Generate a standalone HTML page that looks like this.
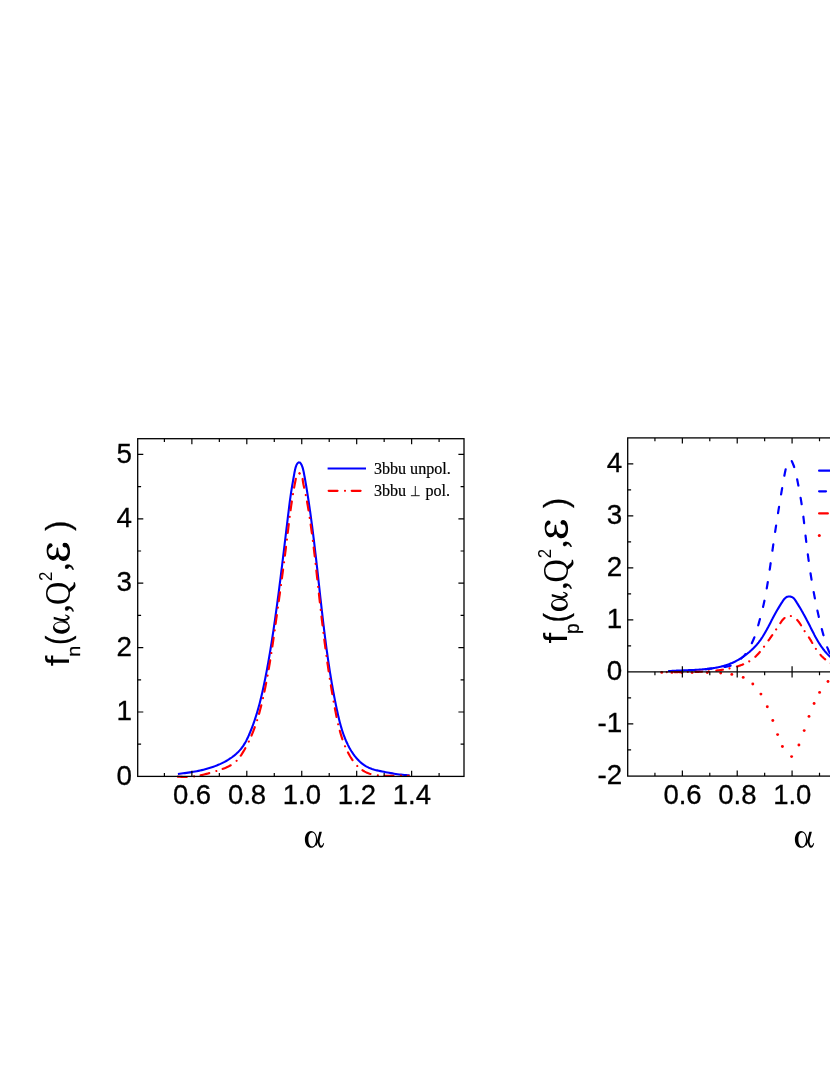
<!DOCTYPE html>
<html lang="en">
<head>
<meta charset="utf-8">
<title>f_n and f_p distributions</title>
<style>
html,body{margin:0;padding:0;background:#fff;}
body{width:830px;height:1075px;overflow:hidden;font-family:"Liberation Sans",sans-serif;}
svg{display:block;position:absolute;left:0;top:0;will-change:transform;}
text{fill:#000;}
</style>
</head>
<body>
<svg width="830" height="1075" viewBox="0 0 830 1075" role="img" aria-label="f_n and f_p light-cone momentum distributions versus alpha">
<rect width="830" height="1075" fill="#fff"/>
<g id="left">
<path d="M177.91 773.92 L179.62 773.74 L181.34 773.54 L183.05 773.33 L184.77 773.11 L186.49 772.88 L188.20 772.64 L189.92 772.39 L191.63 772.12 L193.34 771.83 L195.05 771.52 L196.75 771.20 L198.45 770.86 L200.15 770.49 L201.84 770.11 L203.52 769.70 L205.20 769.27 L206.87 768.81 L208.53 768.33 L210.19 767.82 L211.84 767.28 L213.48 766.71 L215.10 766.12 L216.72 765.49 L218.33 764.82 L219.93 764.13 L221.51 763.40 L223.08 762.63 L224.63 761.83 L226.16 760.99 L227.66 760.11 L229.14 759.19 L230.59 758.24 L232.01 757.24 L233.40 756.20 L234.74 755.13 L236.05 754.00 L237.31 752.84 L238.53 751.63 L239.70 750.38 L240.82 749.08 L241.88 747.73 L242.89 746.34 L243.85 744.90 L244.75 743.42 L245.61 741.91 L246.43 740.37 L247.21 738.80 L247.97 737.22 L248.69 735.61 L249.39 734.00 L250.07 732.39 L250.73 730.77 L251.38 729.14 L252.01 727.51 L252.63 725.88 L253.23 724.25 L253.81 722.61 L254.38 720.97 L254.94 719.33 L255.48 717.68 L256.01 716.03 L256.52 714.37 L257.03 712.72 L257.52 711.06 L258.00 709.40 L258.46 707.73 L258.92 706.07 L259.37 704.40 L259.81 702.73 L260.23 701.05 L260.65 699.38 L261.06 697.70 L261.46 696.02 L261.86 694.34 L262.24 692.66 L262.62 690.97 L262.99 689.28 L263.36 687.59 L263.72 685.90 L264.07 684.21 L264.42 682.52 L264.77 680.83 L265.11 679.13 L265.44 677.44 L265.77 675.74 L266.10 674.04 L266.43 672.34 L266.75 670.64 L267.07 668.94 L267.38 667.24 L267.69 665.53 L268.00 663.83 L268.31 662.12 L268.61 660.42 L268.90 658.71 L269.20 657.00 L269.49 655.30 L269.78 653.59 L270.06 651.88 L270.35 650.17 L270.63 648.46 L270.91 646.75 L271.18 645.03 L271.45 643.32 L271.72 641.61 L271.99 639.90 L272.25 638.18 L272.52 636.47 L272.78 634.75 L273.04 633.04 L273.29 631.32 L273.55 629.61 L273.80 627.89 L274.05 626.18 L274.30 624.46 L274.55 622.74 L274.79 621.03 L275.04 619.31 L275.28 617.59 L275.52 615.88 L275.76 614.16 L276.00 612.44 L276.23 610.73 L276.47 609.01 L276.70 607.29 L276.94 605.58 L277.17 603.86 L277.40 602.14 L277.63 600.42 L277.85 598.71 L278.08 596.99 L278.31 595.27 L278.53 593.55 L278.75 591.83 L278.97 590.12 L279.20 588.40 L279.42 586.68 L279.64 584.96 L279.85 583.24 L280.07 581.53 L280.29 579.81 L280.50 578.09 L280.72 576.37 L280.93 574.65 L281.15 572.93 L281.36 571.21 L281.57 569.50 L281.78 567.78 L282.00 566.06 L282.21 564.34 L282.42 562.62 L282.63 560.90 L282.84 559.18 L283.04 557.46 L283.25 555.75 L283.46 554.03 L283.67 552.31 L283.87 550.59 L284.08 548.87 L284.29 547.15 L284.50 545.43 L284.70 543.71 L284.91 541.99 L285.11 540.27 L285.32 538.56 L285.53 536.84 L285.73 535.12 L285.94 533.40 L286.14 531.68 L286.35 529.96 L286.55 528.24 L286.76 526.52 L286.97 524.80 L287.17 523.08 L287.38 521.37 L287.59 519.65 L287.79 517.93 L288.00 516.21 L288.21 514.49 L288.42 512.77 L288.63 511.05 L288.84 509.33 L289.05 507.61 L289.26 505.90 L289.48 504.18 L289.70 502.46 L289.92 500.74 L290.15 499.02 L290.39 497.30 L290.64 495.58 L290.89 493.86 L291.15 492.13 L291.42 490.41 L291.69 488.69 L291.98 486.98 L292.26 485.26 L292.55 483.56 L292.85 481.85 L293.14 480.15 L293.44 478.46 L293.74 476.78 L294.04 475.10 L294.33 473.44 L294.63 471.78 L294.97 470.10 L295.37 468.37 L295.89 466.56 L296.58 464.75 L297.53 463.25 L298.73 462.42 L299.90 462.58 L300.92 463.65 L301.77 465.28 L302.46 467.13 L302.99 468.92 L303.41 470.64 L303.75 472.31 L304.06 473.97 L304.37 475.63 L304.68 477.31 L304.98 478.99 L305.28 480.68 L305.57 482.38 L305.87 484.07 L306.16 485.78 L306.44 487.49 L306.72 489.20 L307.00 490.91 L307.28 492.62 L307.55 494.34 L307.82 496.05 L308.09 497.77 L308.35 499.48 L308.61 501.20 L308.87 502.92 L309.12 504.63 L309.38 506.35 L309.63 508.07 L309.87 509.78 L310.12 511.50 L310.36 513.22 L310.60 514.94 L310.84 516.65 L311.07 518.37 L311.30 520.09 L311.54 521.81 L311.76 523.53 L311.99 525.24 L312.21 526.96 L312.44 528.68 L312.66 530.40 L312.88 532.12 L313.09 533.84 L313.31 535.56 L313.52 537.28 L313.73 539.00 L313.94 540.72 L314.15 542.44 L314.36 544.16 L314.56 545.88 L314.77 547.60 L314.97 549.32 L315.17 551.04 L315.37 552.76 L315.57 554.48 L315.77 556.20 L315.97 557.92 L316.17 559.64 L316.36 561.36 L316.56 563.08 L316.75 564.80 L316.95 566.52 L317.14 568.24 L317.33 569.96 L317.52 571.68 L317.72 573.41 L317.91 575.13 L318.10 576.85 L318.29 578.57 L318.48 580.29 L318.67 582.01 L318.86 583.73 L319.05 585.45 L319.24 587.17 L319.43 588.89 L319.62 590.61 L319.81 592.34 L320.00 594.06 L320.19 595.78 L320.38 597.50 L320.57 599.22 L320.77 600.94 L320.96 602.66 L321.15 604.38 L321.35 606.10 L321.54 607.82 L321.74 609.54 L321.93 611.26 L322.13 612.98 L322.33 614.70 L322.53 616.42 L322.73 618.14 L322.93 619.86 L323.13 621.58 L323.33 623.30 L323.54 625.02 L323.75 626.74 L323.95 628.46 L324.16 630.18 L324.37 631.90 L324.59 633.62 L324.80 635.34 L325.02 637.05 L325.24 638.77 L325.46 640.49 L325.68 642.21 L325.90 643.93 L326.13 645.64 L326.36 647.36 L326.59 649.08 L326.82 650.79 L327.06 652.51 L327.30 654.22 L327.54 655.94 L327.78 657.65 L328.03 659.37 L328.28 661.08 L328.53 662.80 L328.79 664.51 L329.05 666.22 L329.31 667.93 L329.57 669.65 L329.84 671.36 L330.11 673.07 L330.39 674.78 L330.66 676.49 L330.95 678.20 L331.23 679.91 L331.52 681.62 L331.81 683.33 L332.11 685.03 L332.41 686.74 L332.72 688.45 L333.03 690.15 L333.34 691.86 L333.66 693.56 L333.98 695.26 L334.30 696.97 L334.63 698.67 L334.97 700.37 L335.31 702.07 L335.65 703.77 L336.00 705.47 L336.36 707.17 L336.71 708.87 L337.08 710.57 L337.45 712.27 L337.82 713.96 L338.21 715.65 L338.60 717.35 L339.00 719.03 L339.42 720.72 L339.84 722.40 L340.29 724.07 L340.75 725.74 L341.23 727.40 L341.72 729.06 L342.24 730.71 L342.78 732.35 L343.34 733.98 L343.92 735.60 L344.54 737.22 L345.18 738.82 L345.84 740.41 L346.54 741.99 L347.27 743.56 L348.03 745.12 L348.83 746.66 L349.66 748.19 L350.53 749.70 L351.44 751.20 L352.39 752.67 L353.38 754.12 L354.41 755.54 L355.48 756.92 L356.59 758.26 L357.75 759.55 L358.95 760.80 L360.20 761.98 L361.50 763.11 L362.84 764.17 L364.23 765.17 L365.68 766.09 L367.17 766.92 L368.71 767.68 L370.31 768.35 L371.95 768.94 L373.62 769.47 L375.32 769.95 L377.05 770.37 L378.78 770.76 L380.51 771.13 L382.24 771.48 L383.96 771.82 L385.67 772.16 L387.37 772.48 L389.07 772.80 L390.76 773.10 L392.45 773.40 L394.13 773.67 L395.82 773.94 L397.51 774.19 L399.21 774.42 L400.92 774.63 L402.63 774.83 L404.35 775.00 L406.09 775.16 L407.84 775.29 L409.60 775.40" stroke="#0000ff" stroke-width="2.1" fill="none" stroke-linejoin="round"/>
<path d="M177.88 776.57 L179.65 776.76 L181.41 776.89 L183.15 776.98 L184.87 777.01 L186.59 777.00 L188.29 776.94 L189.97 776.84 L191.65 776.69 L193.32 776.51 L194.98 776.29 L196.64 776.04 L198.29 775.75 L199.93 775.44 L201.57 775.09 L203.21 774.72 L204.85 774.32 L206.49 773.90 L208.12 773.46 L209.76 773.00 L211.41 772.52 L213.06 772.03 L214.71 771.53 L216.37 771.01 L218.03 770.49 L219.70 769.95 L221.35 769.39 L223.00 768.80 L224.63 768.18 L226.23 767.51 L227.80 766.80 L229.34 766.04 L230.82 765.22 L232.26 764.34 L233.65 763.38 L234.97 762.35 L236.22 761.24 L237.39 760.04 L238.50 758.76 L239.54 757.41 L240.54 756.02 L241.50 754.58 L242.42 753.13 L243.32 751.67 L244.20 750.20 L245.05 748.71 L245.88 747.22 L246.69 745.71 L247.48 744.20 L248.24 742.68 L248.99 741.15 L249.71 739.61 L250.42 738.06 L251.11 736.50 L251.77 734.94 L252.42 733.37 L253.06 731.79 L253.67 730.20 L254.27 728.61 L254.85 727.01 L255.42 725.41 L255.97 723.80 L256.51 722.18 L257.03 720.56 L257.54 718.93 L258.04 717.30 L258.52 715.67 L258.99 714.03 L259.45 712.38 L259.90 710.73 L260.34 709.08 L260.77 707.43 L261.19 705.77 L261.59 704.11 L261.99 702.45 L262.39 700.79 L262.77 699.12 L263.15 697.45 L263.52 695.78 L263.89 694.11 L264.24 692.44 L264.60 690.77 L264.95 689.10 L265.29 687.43 L265.63 685.76 L265.96 684.08 L266.29 682.41 L266.61 680.74 L266.93 679.06 L267.24 677.38 L267.55 675.71 L267.85 674.03 L268.15 672.35 L268.45 670.68 L268.74 669.00 L269.03 667.32 L269.32 665.64 L269.60 663.96 L269.88 662.28 L270.15 660.60 L270.42 658.91 L270.69 657.23 L270.96 655.55 L271.22 653.87 L271.48 652.18 L271.74 650.50 L272.00 648.81 L272.25 647.13 L272.50 645.44 L272.75 643.76 L273.00 642.07 L273.25 640.39 L273.49 638.70 L273.74 637.01 L273.98 635.33 L274.22 633.64 L274.46 631.95 L274.70 630.27 L274.94 628.58 L275.18 626.89 L275.41 625.20 L275.65 623.51 L275.89 621.82 L276.12 620.13 L276.36 618.44 L276.60 616.76 L276.83 615.07 L277.07 613.38 L277.31 611.69 L277.54 610.00 L277.78 608.31 L278.02 606.62 L278.25 604.93 L278.49 603.23 L278.72 601.54 L278.96 599.85 L279.19 598.16 L279.43 596.47 L279.66 594.78 L279.89 593.09 L280.13 591.40 L280.36 589.71 L280.59 588.02 L280.83 586.32 L281.06 584.63 L281.29 582.94 L281.52 581.25 L281.75 579.56 L281.98 577.87 L282.20 576.17 L282.43 574.48 L282.66 572.79 L282.88 571.10 L283.11 569.41 L283.33 567.71 L283.56 566.02 L283.78 564.33 L284.00 562.64 L284.22 560.95 L284.44 559.26 L284.66 557.56 L284.88 555.87 L285.10 554.18 L285.31 552.49 L285.53 550.80 L285.74 549.10 L285.95 547.41 L286.16 545.72 L286.37 544.03 L286.58 542.34 L286.79 540.65 L286.99 538.96 L287.20 537.26 L287.40 535.57 L287.61 533.88 L287.81 532.19 L288.01 530.50 L288.22 528.81 L288.42 527.12 L288.63 525.43 L288.84 523.74 L289.04 522.05 L289.25 520.36 L289.47 518.67 L289.68 516.98 L289.90 515.29 L290.12 513.60 L290.35 511.91 L290.57 510.22 L290.81 508.53 L291.04 506.84 L291.28 505.16 L291.53 503.47 L291.78 501.78 L292.03 500.09 L292.30 498.40 L292.56 496.71 L292.84 495.03 L293.12 493.34 L293.40 491.65 L293.70 489.97 L294.00 488.28 L294.31 486.59 L294.63 484.91 L294.95 483.22 L295.29 481.53 L295.63 479.85 L295.99 478.16 L296.35 476.48 L296.83 474.88 L297.88 473.71 L299.55 473.41" stroke="#ff0000" stroke-width="2.15" fill="none" stroke-dasharray="8.9 7.4 0.01 6.6" stroke-linecap="round" stroke-dashoffset="0.02" stroke-linejoin="round"/>
<path d="M299.55 473.41 L301.01 474.23 L301.94 475.63 L302.42 477.29 L302.65 479.08 L302.85 480.87 L303.11 482.61 L303.42 484.31 L303.78 485.98 L304.15 487.63 L304.53 489.27 L304.90 490.91 L305.26 492.57 L305.60 494.22 L305.94 495.88 L306.27 497.55 L306.59 499.22 L306.90 500.89 L307.20 502.57 L307.50 504.24 L307.79 505.93 L308.07 507.61 L308.35 509.29 L308.62 510.98 L308.89 512.67 L309.16 514.35 L309.42 516.04 L309.68 517.73 L309.93 519.42 L310.18 521.11 L310.43 522.80 L310.67 524.49 L310.91 526.18 L311.14 527.87 L311.38 529.56 L311.61 531.25 L311.84 532.94 L312.06 534.64 L312.28 536.33 L312.50 538.02 L312.72 539.71 L312.93 541.41 L313.15 543.10 L313.36 544.80 L313.56 546.49 L313.77 548.19 L313.97 549.88 L314.18 551.58 L314.38 553.27 L314.58 554.97 L314.77 556.66 L314.97 558.36 L315.16 560.05 L315.36 561.75 L315.55 563.44 L315.74 565.14 L315.93 566.84 L316.12 568.53 L316.31 570.23 L316.50 571.92 L316.68 573.62 L316.87 575.31 L317.06 577.01 L317.24 578.71 L317.43 580.40 L317.62 582.10 L317.80 583.79 L317.99 585.49 L318.18 587.18 L318.36 588.88 L318.55 590.57 L318.74 592.26 L318.93 593.96 L319.12 595.65 L319.30 597.35 L319.49 599.04 L319.68 600.73 L319.87 602.43 L320.07 604.12 L320.26 605.81 L320.45 607.50 L320.64 609.20 L320.84 610.89 L321.03 612.58 L321.23 614.27 L321.42 615.97 L321.62 617.66 L321.82 619.35 L322.02 621.04 L322.22 622.73 L322.42 624.42 L322.63 626.11 L322.83 627.80 L323.04 629.49 L323.24 631.19 L323.45 632.88 L323.66 634.57 L323.87 636.26 L324.08 637.95 L324.30 639.63 L324.52 641.32 L324.73 643.01 L324.95 644.70 L325.17 646.39 L325.40 648.08 L325.62 649.77 L325.85 651.46 L326.08 653.15 L326.31 654.83 L326.54 656.52 L326.77 658.21 L327.01 659.90 L327.25 661.58 L327.49 663.27 L327.73 664.96 L327.98 666.65 L328.22 668.33 L328.47 670.02 L328.73 671.71 L328.98 673.39 L329.24 675.08 L329.50 676.76 L329.76 678.45 L330.02 680.14 L330.29 681.82 L330.56 683.51 L330.84 685.19 L331.11 686.88 L331.39 688.56 L331.67 690.25 L331.96 691.93 L332.24 693.62 L332.53 695.30 L332.83 696.98 L333.12 698.67 L333.42 700.35 L333.73 702.04 L334.03 703.72 L334.34 705.40 L334.66 707.09 L334.97 708.77 L335.29 710.45 L335.62 712.13 L335.94 713.82 L336.28 715.50 L336.62 717.18 L336.97 718.85 L337.32 720.53 L337.69 722.20 L338.07 723.87 L338.46 725.53 L338.87 727.19 L339.29 728.85 L339.72 730.50 L340.18 732.14 L340.65 733.78 L341.14 735.41 L341.65 737.03 L342.18 738.65 L342.73 740.25 L343.31 741.85 L343.92 743.44 L344.55 745.02 L345.20 746.59 L345.89 748.15 L346.60 749.70 L347.34 751.24 L348.12 752.76 L348.93 754.27 L349.77 755.77 L350.65 757.25 L351.57 758.70 L352.53 760.13 L353.53 761.52 L354.57 762.87 L355.66 764.17 L356.80 765.43 L357.99 766.63 L359.23 767.77 L360.52 768.84 L361.87 769.85 L363.28 770.78 L364.75 771.63 L366.28 772.39 L367.88 773.07 L369.53 773.66 L371.22 774.16 L372.94 774.59 L374.67 774.95 L376.41 775.24 L378.14 775.47 L379.85 775.64 L381.56 775.77 L383.25 775.85 L384.94 775.90 L386.62 775.91 L388.29 775.90 L389.96 775.87 L391.63 775.82 L393.31 775.76 L394.98 775.71 L396.66 775.65 L398.35 775.60 L400.04 775.56 L401.75 775.55 L403.46 775.56 L405.19 775.60 L406.94 775.68 L408.70 775.80" stroke="#ff0000" stroke-width="2.15" fill="none" stroke-dasharray="8.9 7.5 0.01 6.75" stroke-linecap="round" stroke-dashoffset="16.4" stroke-linejoin="round"/>
<rect x="137.70" y="438.70" width="326.30" height="337.70" stroke="#000" stroke-width="1.3" fill="none"/>
<path d="M191.87 776.40 v-5.60M246.81 776.40 v-5.60M301.75 776.40 v-5.60M356.69 776.40 v-5.60M411.63 776.40 v-5.60M164.40 776.40 v-3.40M219.34 776.40 v-3.40M274.28 776.40 v-3.40M329.22 776.40 v-3.40M384.16 776.40 v-3.40M439.10 776.40 v-3.40M191.87 438.70 v5.60M246.81 438.70 v5.60M301.75 438.70 v5.60M356.69 438.70 v5.60M411.63 438.70 v5.60M164.40 438.70 v3.40M219.34 438.70 v3.40M274.28 438.70 v3.40M329.22 438.70 v3.40M384.16 438.70 v3.40M439.10 438.70 v3.40M137.70 712.00 h5.60M137.70 647.60 h5.60M137.70 583.20 h5.60M137.70 518.80 h5.60M137.70 454.40 h5.60M137.70 744.20 h3.40M137.70 679.80 h3.40M137.70 615.40 h3.40M137.70 551.00 h3.40M137.70 486.60 h3.40M464.00 712.00 h-5.60M464.00 647.60 h-5.60M464.00 583.20 h-5.60M464.00 518.80 h-5.60M464.00 454.40 h-5.60M464.00 744.20 h-3.40M464.00 679.80 h-3.40M464.00 615.40 h-3.40M464.00 551.00 h-3.40M464.00 486.60 h-3.40" stroke="#000" stroke-width="1.2" fill="none"/>
<text x="192.07" y="803.5" text-anchor="middle" stroke="#000" stroke-width="0.3" style="font-family:'Liberation Sans',sans-serif;font-size:27.5px">0.6</text>
<text x="247.01" y="803.5" text-anchor="middle" stroke="#000" stroke-width="0.3" style="font-family:'Liberation Sans',sans-serif;font-size:27.5px">0.8</text>
<text x="301.95" y="803.5" text-anchor="middle" stroke="#000" stroke-width="0.3" style="font-family:'Liberation Sans',sans-serif;font-size:27.5px">1.0</text>
<text x="356.89" y="803.5" text-anchor="middle" stroke="#000" stroke-width="0.3" style="font-family:'Liberation Sans',sans-serif;font-size:27.5px">1.2</text>
<text x="411.83" y="803.5" text-anchor="middle" stroke="#000" stroke-width="0.3" style="font-family:'Liberation Sans',sans-serif;font-size:27.5px">1.4</text>
<text x="131.9" y="784.60" text-anchor="end" stroke="#000" stroke-width="0.3" style="font-family:'Liberation Sans',sans-serif;font-size:27.8px">0</text>
<text x="131.9" y="720.20" text-anchor="end" stroke="#000" stroke-width="0.3" style="font-family:'Liberation Sans',sans-serif;font-size:27.8px">1</text>
<text x="131.9" y="655.80" text-anchor="end" stroke="#000" stroke-width="0.3" style="font-family:'Liberation Sans',sans-serif;font-size:27.8px">2</text>
<text x="131.9" y="591.40" text-anchor="end" stroke="#000" stroke-width="0.3" style="font-family:'Liberation Sans',sans-serif;font-size:27.8px">3</text>
<text x="131.9" y="527.00" text-anchor="end" stroke="#000" stroke-width="0.3" style="font-family:'Liberation Sans',sans-serif;font-size:27.8px">4</text>
<text x="131.9" y="462.60" text-anchor="end" stroke="#000" stroke-width="0.3" style="font-family:'Liberation Sans',sans-serif;font-size:27.8px">5</text>
<g transform="translate(300 826) scale(0.03614)" fill="#000"><path fill-rule="evenodd" d="M305 140 C205 140 135 245 135 372 C135 500 205 605 315 605 C415 605 475 500 475 372 C475 245 405 140 305 140 Z M338 180 C396 180 442 268 442 372 C442 477 396 565 338 565 C273 565 231 477 231 372 C231 268 273 180 338 180 Z"/><path d="M535 160 L605 160 C580 260 550 350 540 430 C545 490 560 540 585 545 C610 545 635 510 648 468 L668 476 C655 545 625 603 578 603 C535 603 505 540 492 455 C480 500 465 530 440 560 L425 520 C470 420 505 290 535 160 Z"/></g>
<path d="M327.6 468.5H366" stroke="#0000ff" stroke-width="2.1"/>
<path d="M328.65 490.8H366" stroke="#ff0000" stroke-width="2.15" stroke-dasharray="8.9 7.45 0.01 6.69" stroke-linecap="round"/>
<text x="373.9" y="473.9" stroke="#000" stroke-width="0.2" style="font-family:'Liberation Serif',serif;font-size:16.1px">3bbu unpol.</text>
<text x="373.9" y="496.3" stroke="#000" stroke-width="0.2" style="font-family:'Liberation Serif',serif;font-size:16.1px">3bbu</text>
<path d="M410.9 495.7h8.8M415.3 495.7v-9.7" stroke="#000" stroke-width="0.9" fill="none"/>
<text x="425.4" y="496.3" stroke="#000" stroke-width="0.2" style="font-family:'Liberation Serif',serif;font-size:16.1px">pol.</text>
</g>
<g transform="translate(69.50 665.60) rotate(-90)"><text transform="translate(-0.55 -0.10) scale(1.1427 1)" style="font-family:'Liberation Sans',sans-serif;font-size:34.00px">f</text><text transform="translate(8.79 10.85) scale(1.0280 1)" style="font-family:'Liberation Sans',sans-serif;font-size:19.23px" stroke="#000" stroke-width="0.3">n</text><text transform="translate(20.82 -0.64) scale(0.8214 1)" style="font-family:'Liberation Sans',sans-serif;font-size:33.06px" stroke="#000" stroke-width="0.3">(</text><g transform="translate(27.02 -21.56) scale(0.03614)" fill="#000"><path fill-rule="evenodd" d="M305 140 C205 140 135 245 135 372 C135 500 205 605 315 605 C415 605 475 500 475 372 C475 245 405 140 305 140 Z M338 180 C396 180 442 268 442 372 C442 477 396 565 338 565 C273 565 231 477 231 372 C231 268 273 180 338 180 Z"/><path d="M535 160 L605 160 C580 260 550 350 540 430 C545 490 560 540 585 545 C610 545 635 510 648 468 L668 476 C655 545 625 603 578 603 C535 603 505 540 492 455 C480 500 465 530 440 560 L425 520 C470 420 505 290 535 160 Z"/></g><text transform="translate(53.15 -0.09) scale(0.9942 1)" style="font-family:'Liberation Serif',serif;font-size:33.10px" stroke="#000" stroke-width="0.3">,</text><text transform="translate(60.48 0.83) scale(0.9207 1)" style="font-family:'Liberation Serif',serif;font-size:35.00px">Q</text><text transform="translate(84.70 -17.05) scale(0.9009 1)" style="font-family:'Liberation Sans',sans-serif;font-size:18.76px">2</text><text transform="translate(94.85 -0.09) scale(0.9942 1)" style="font-family:'Liberation Serif',serif;font-size:33.10px" stroke="#000" stroke-width="0.3">,</text><text transform="translate(134.92 -0.64) scale(0.9127 1)" style="font-family:'Liberation Sans',sans-serif;font-size:33.06px" stroke="#000" stroke-width="0.3">)</text></g><g transform="translate(42.00 540.00) scale(0.04098)" fill="#000"><path d="M150 110 C100 190 100 330 160 430 C220 510 320 500 360 420 C375 380 375 300 375 180 L360 260 C355 330 340 390 260 390 C190 390 150 330 155 270 C158 220 180 190 215 180 Z"/><circle cx="205" cy="130" r="52"/><path d="M375 180 C380 300 385 400 420 460 C470 530 580 530 640 450 C700 370 700 200 640 110 C600 60 530 60 510 110 L590 180 C620 210 630 260 625 300 C615 370 570 410 510 405 C440 400 400 330 395 260 Z"/><ellipse cx="560" cy="125" rx="60" ry="55"/><path d="M356 200 C356 175 396 175 396 200 L404 420 L348 420 Z"/></g>
<g id="right">
<path d="M700.00 669.60 L701.13 669.51 L702.26 669.42 L703.38 669.33 L704.49 669.23 L705.60 669.13 L706.71 669.03 L707.81 668.92 L708.90 668.81 L710.00 668.70 L711.09 668.58 L712.18 668.46 L713.27 668.34 L714.36 668.22 L715.45 668.09 L716.54 667.96 L717.63 667.83 L718.73 667.69 L719.82 667.55 L720.92 667.41 L722.02 667.26 L723.13 667.12 L724.24 666.97 L725.35 666.81 L726.47 666.64 L727.57 666.44 L728.66 666.20 L729.73 665.91 L730.77 665.56 L731.77 665.14 L732.75 664.64 L733.69 664.08 L734.62 663.48 L735.52 662.83 L736.42 662.16 L737.31 661.48 L738.21 660.80 L739.10 660.11 L739.98 659.42 L740.84 658.71 L741.69 657.98 L742.52 657.24 L743.33 656.48 L744.10 655.69 L744.83 654.87 L745.54 654.03 L746.21 653.16 L746.86 652.27 L747.47 651.36 L748.07 650.43 L748.63 649.48 L749.18 648.51 L749.71 647.54 L750.22 646.55 L750.72 645.55 L751.20 644.55 L751.67 643.53 L752.13 642.52 L752.59 641.50 L753.04 640.49 L753.48 639.47 L753.91 638.45 L754.34 637.43 L754.75 636.41 L755.15 635.38 L755.53 634.34 L755.89 633.30 L756.23 632.25 L756.57 631.19 L756.89 630.13 L757.20 629.07 L757.50 628.00 L757.80 626.93 L758.09 625.86 L758.38 624.79 L758.67 623.71 L758.96 622.64 L759.25 621.57 L759.54 620.50 L759.83 619.43 L760.12 618.36 L760.41 617.29 L760.70 616.22 L760.98 615.15 L761.26 614.08 L761.54 613.00 L761.82 611.93 L762.09 610.86 L762.36 609.79 L762.62 608.71 L762.88 607.63 L763.14 606.56 L763.39 605.48 L763.64 604.40 L763.88 603.32 L764.11 602.24 L764.34 601.15 L764.57 600.07 L764.79 598.98 L765.00 597.89 L765.22 596.81 L765.42 595.72 L765.63 594.63 L765.83 593.54 L766.03 592.45 L766.23 591.35 L766.42 590.26 L766.61 589.17 L766.80 588.08 L766.98 586.98 L767.17 585.89 L767.35 584.80 L767.53 583.70 L767.71 582.61 L767.88 581.51 L768.06 580.42 L768.23 579.32 L768.40 578.23 L768.57 577.13 L768.74 576.04 L768.91 574.94 L769.08 573.84 L769.24 572.75 L769.41 571.65 L769.57 570.55 L769.73 569.46 L769.90 568.36 L770.06 567.26 L770.22 566.17 L770.38 565.07 L770.53 563.97 L770.69 562.88 L770.85 561.78 L771.01 560.68 L771.16 559.58 L771.32 558.49 L771.47 557.39 L771.63 556.29 L771.78 555.19 L771.94 554.10 L772.10 553.00 L772.25 551.90 L772.41 550.80 L772.56 549.71 L772.72 548.61 L772.87 547.51 L773.03 546.42 L773.18 545.32 L773.34 544.22 L773.50 543.12 L773.66 542.03 L773.82 540.93 L773.97 539.84 L774.13 538.74 L774.29 537.64 L774.46 536.55 L774.62 535.45 L774.78 534.36 L774.94 533.26 L775.11 532.16 L775.27 531.07 L775.43 529.97 L775.60 528.88 L775.76 527.78 L775.93 526.69 L776.10 525.59 L776.26 524.50 L776.43 523.40 L776.60 522.31 L776.77 521.21 L776.94 520.12 L777.11 519.02 L777.28 517.93 L777.45 516.84 L777.62 515.74 L777.80 514.65 L777.97 513.55 L778.14 512.46 L778.32 511.36 L778.49 510.27 L778.67 509.18 L778.84 508.08 L779.02 506.99 L779.20 505.89 L779.38 504.80 L779.55 503.70 L779.73 502.61 L779.91 501.52 L780.09 500.42 L780.27 499.33 L780.45 498.23 L780.63 497.14 L780.82 496.04 L781.00 494.95 L781.18 493.86 L781.37 492.76 L781.55 491.67 L781.74 490.57 L781.92 489.48 L782.11 488.38 L782.29 487.29 L782.48 486.19 L782.67 485.10 L782.86 484.01 L783.05 482.91 L783.24 481.82 L783.43 480.73 L783.63 479.63 L783.83 478.54 L784.03 477.46 L784.23 476.37 L784.44 475.28 L784.65 474.20 L784.86 473.12 L785.08 472.04 L785.31 470.96 L785.53 469.89 L785.77 468.82 L786.01 467.76 L786.27 466.69 L786.57 465.63 L786.94 464.57 L787.39 463.51 L787.94 462.45 L788.61 461.47 L789.40 460.65 L790.28 460.15 L791.10 460.28 L791.76 461.09 L792.30 462.24 L792.78 463.41 L793.23 464.49 L793.64 465.52 L794.02 466.51 L794.37 467.49 L794.70 468.49 L795.00 469.52 L795.29 470.57 L795.56 471.64 L795.82 472.72 L796.06 473.82 L796.30 474.92 L796.52 476.03 L796.74 477.14 L796.96 478.24 L797.17 479.34 L797.38 480.44 L797.60 481.53 L797.81 482.61 L798.02 483.70 L798.23 484.78 L798.43 485.86 L798.64 486.95 L798.84 488.03 L799.05 489.12 L799.25 490.20 L799.45 491.29 L799.65 492.38 L799.85 493.47 L800.04 494.56 L800.24 495.65 L800.43 496.75 L800.61 497.84 L800.80 498.93 L800.98 500.03 L801.16 501.13 L801.34 502.22 L801.51 503.32 L801.68 504.42 L801.85 505.51 L802.01 506.61 L802.17 507.71 L802.33 508.81 L802.48 509.91 L802.63 511.00 L802.78 512.10 L802.93 513.20 L803.07 514.30 L803.21 515.40 L803.35 516.50 L803.48 517.60 L803.61 518.70 L803.75 519.80 L803.88 520.90 L804.01 522.00 L804.13 523.10 L804.26 524.20 L804.39 525.30 L804.51 526.40 L804.63 527.50 L804.76 528.60 L804.88 529.70 L805.00 530.80 L805.13 531.90 L805.25 533.00 L805.37 534.10 L805.50 535.20 L805.62 536.30 L805.75 537.40 L805.88 538.50 L806.00 539.60 L806.13 540.70 L806.26 541.80 L806.39 542.90 L806.52 544.00 L806.66 545.10 L806.79 546.21 L806.93 547.31 L807.06 548.41 L807.20 549.51 L807.34 550.61 L807.48 551.71 L807.62 552.81 L807.77 553.91 L807.91 555.01 L808.06 556.10 L808.20 557.20 L808.35 558.30 L808.50 559.40 L808.65 560.50 L808.81 561.60 L808.96 562.70 L809.12 563.80 L809.27 564.89 L809.43 565.99 L809.59 567.09 L809.75 568.19 L809.92 569.28 L810.08 570.38 L810.25 571.48 L810.42 572.57 L810.59 573.67 L810.76 574.76 L810.93 575.86 L811.10 576.95 L811.28 578.05 L811.46 579.14 L811.64 580.24 L811.82 581.33 L812.00 582.42 L812.19 583.51 L812.37 584.61 L812.56 585.70 L812.75 586.79 L812.94 587.88 L813.14 588.97 L813.33 590.06 L813.53 591.15 L813.73 592.24 L813.93 593.33 L814.13 594.42 L814.34 595.51 L814.55 596.59 L814.76 597.68 L814.97 598.77 L815.18 599.85 L815.40 600.94 L815.61 602.02 L815.83 603.11 L816.06 604.19 L816.28 605.28 L816.51 606.36 L816.73 607.44 L816.96 608.53 L817.20 609.61 L817.43 610.69 L817.67 611.77 L817.91 612.85 L818.15 613.93 L818.40 615.01 L818.64 616.09 L818.89 617.17 L819.15 618.25 L819.40 619.33 L819.66 620.41 L819.92 621.49 L820.18 622.57 L820.44 623.65 L820.71 624.72 L820.98 625.80 L821.25 626.88 L821.53 627.95 L821.80 629.03 L822.08 630.11 L822.37 631.18 L822.65 632.26 L822.94 633.33 L823.23 634.41 L823.53 635.48 L823.82 636.56 L824.12 637.63 L824.43 638.70 L824.74 639.78 L825.06 640.84 L825.38 641.91 L825.72 642.97 L826.06 644.02 L826.42 645.07 L826.79 646.11 L827.18 647.15 L827.58 648.18 L828.00 649.19 L828.44 650.20 L828.90 651.20 L829.38 652.18 L829.88 653.15 L830.40 654.11 L830.95 655.06 L831.53 655.99 L832.14 656.90 L832.77 657.80 L833.44 658.68 L834.13 659.54 L834.86 660.38 L835.62 661.21 L836.42 662.01 L837.26 662.79 L838.13 663.55 L839.05 664.29 L840.00 665.00" stroke="#0000ff" stroke-width="2.2" fill="none" stroke-dasharray="6.4 12.6" stroke-linecap="round" stroke-dashoffset="13.48" stroke-linejoin="round"/>
<path d="M668.11 671.22 L668.66 671.17 L669.21 671.13 L669.77 671.08 L670.32 671.04 L670.88 671.00 L671.43 670.96 L671.99 670.92 L672.55 670.88 L673.11 670.84 L673.67 670.81 L674.23 670.78 L674.79 670.74 L675.36 670.71 L675.92 670.68 L676.49 670.65 L677.06 670.63 L677.63 670.60 L678.19 670.57 L678.76 670.55 L679.34 670.52 L679.91 670.50 L680.48 670.47 L681.05 670.45 L681.63 670.43 L682.20 670.41 L682.78 670.38 L683.35 670.36 L683.93 670.34 L684.51 670.32 L685.09 670.30 L685.66 670.28 L686.24 670.26 L686.82 670.24 L687.40 670.21 L687.98 670.19 L688.56 670.17 L689.14 670.15 L689.73 670.13 L690.31 670.10 L690.89 670.08 L691.47 670.06 L692.05 670.03 L692.64 670.01 L693.22 669.98 L693.80 669.95 L694.38 669.93 L694.97 669.90 L695.55 669.87 L696.13 669.84 L696.72 669.80 L697.30 669.77 L697.88 669.74 L698.46 669.70 L699.05 669.67 L699.63 669.63 L700.21 669.59 L700.79 669.55 L701.38 669.50 L701.96 669.46 L702.54 669.41 L703.12 669.36 L703.70 669.31 L704.28 669.26 L704.86 669.21 L705.44 669.15 L706.02 669.10 L706.60 669.04 L707.17 668.97 L707.75 668.91 L708.33 668.84 L708.90 668.77 L709.48 668.70 L710.05 668.63 L710.63 668.55 L711.20 668.47 L711.77 668.39 L712.34 668.30 L712.91 668.22 L713.48 668.13 L714.05 668.03 L714.62 667.94 L715.19 667.84 L715.75 667.73 L716.32 667.63 L716.88 667.52 L717.45 667.41 L718.01 667.29 L718.57 667.17 L719.13 667.05 L719.69 666.92 L720.24 666.79 L720.80 666.66 L721.36 666.52 L721.91 666.38 L722.46 666.24 L723.01 666.09 L723.56 665.94 L724.11 665.78 L724.66 665.62 L725.20 665.45 L725.74 665.29 L726.29 665.11 L726.83 664.93 L727.37 664.75 L727.90 664.57 L728.44 664.37 L728.97 664.18 L729.50 663.98 L730.03 663.77 L730.56 663.56 L731.09 663.35 L731.62 663.13 L732.14 662.91 L732.66 662.68 L733.18 662.44 L733.70 662.20 L734.21 661.96 L734.73 661.71 L735.24 661.45 L735.75 661.19 L736.25 660.93 L736.76 660.66 L737.26 660.39 L737.76 660.11 L738.26 659.83 L738.76 659.54 L739.25 659.25 L739.75 658.95 L740.24 658.65 L740.72 658.35 L741.21 658.04 L741.69 657.72 L742.17 657.41 L742.65 657.09 L743.13 656.76 L743.60 656.43 L744.07 656.10 L744.54 655.76 L745.00 655.42 L745.47 655.08 L745.93 654.73 L746.39 654.38 L746.84 654.02 L747.29 653.67 L747.74 653.30 L748.19 652.94 L748.63 652.57 L749.08 652.20 L749.51 651.83 L749.95 651.45 L750.38 651.07 L750.81 650.69 L751.24 650.30 L751.66 649.91 L752.08 649.52 L752.50 649.13 L752.92 648.73 L753.33 648.33 L753.73 647.92 L754.14 647.51 L754.54 647.10 L754.93 646.69 L755.32 646.27 L755.71 645.85 L756.10 645.43 L756.48 645.00 L756.85 644.57 L757.22 644.13 L757.59 643.69 L757.95 643.25 L758.31 642.81 L758.67 642.36 L759.01 641.91 L759.36 641.45 L759.70 640.99 L760.04 640.53 L760.37 640.07 L760.71 639.60 L761.03 639.13 L761.36 638.66 L761.68 638.18 L761.99 637.71 L762.31 637.23 L762.62 636.74 L762.92 636.26 L763.23 635.77 L763.53 635.28 L763.83 634.79 L764.13 634.30 L764.42 633.81 L764.71 633.31 L765.00 632.81 L765.29 632.31 L765.58 631.81 L765.86 631.31 L766.14 630.81 L766.42 630.30 L766.70 629.80 L766.97 629.29 L767.25 628.78 L767.52 628.27 L767.79 627.77 L768.07 627.26 L768.34 626.74 L768.60 626.23 L768.87 625.72 L769.14 625.21 L769.41 624.70 L769.67 624.19 L769.94 623.67 L770.20 623.16 L770.46 622.65 L770.73 622.14 L770.99 621.63 L771.26 621.11 L771.52 620.60 L771.78 620.09 L772.05 619.58 L772.31 619.07 L772.58 618.57 L772.84 618.06 L773.11 617.55 L773.38 617.05 L773.65 616.54 L773.91 616.04 L774.18 615.54 L774.46 615.04 L774.73 614.54 L775.00 614.04 L775.28 613.54 L775.55 613.04 L775.83 612.55 L776.11 612.05 L776.39 611.56 L776.67 611.07 L776.95 610.57 L777.24 610.08 L777.53 609.59 L777.82 609.10 L778.11 608.61 L778.40 608.12 L778.70 607.62 L778.99 607.13 L779.29 606.64 L779.60 606.15 L779.90 605.66 L780.21 605.16 L780.52 604.67 L780.83 604.18 L781.14 603.68 L781.46 603.19 L781.78 602.69 L782.10 602.20 L782.43 601.70 L782.76 601.20 L783.09 600.70 L783.43 600.21 L783.77 599.72 L784.13 599.25 L784.50 598.80 L784.89 598.37 L785.30 597.98 L785.73 597.63 L786.19 597.32 L786.68 597.06 L787.20 596.85 L787.73 596.69 L788.28 596.58 L788.84 596.52 L789.40 596.50 L789.97 596.54 L790.53 596.62 L791.07 596.75 L791.61 596.92 L792.12 597.15 L792.61 597.42 L793.07 597.73 L793.51 598.09 L793.92 598.48 L794.30 598.90 L794.67 599.35 L795.02 599.82 L795.36 600.31 L795.69 600.81 L796.01 601.32 L796.33 601.83 L796.65 602.33 L796.96 602.84 L797.28 603.34 L797.59 603.84 L797.89 604.34 L798.20 604.84 L798.50 605.34 L798.81 605.84 L799.11 606.34 L799.41 606.84 L799.70 607.33 L800.00 607.83 L800.29 608.33 L800.58 608.82 L800.87 609.32 L801.16 609.81 L801.45 610.30 L801.73 610.80 L802.02 611.29 L802.30 611.78 L802.58 612.28 L802.86 612.77 L803.14 613.26 L803.41 613.76 L803.69 614.25 L803.97 614.75 L804.24 615.24 L804.51 615.74 L804.78 616.23 L805.05 616.73 L805.32 617.23 L805.59 617.72 L805.86 618.22 L806.12 618.72 L806.39 619.22 L806.65 619.73 L806.92 620.23 L807.18 620.73 L807.44 621.24 L807.71 621.74 L807.97 622.25 L808.23 622.76 L808.49 623.27 L808.75 623.78 L809.01 624.29 L809.27 624.81 L809.53 625.32 L809.79 625.84 L810.05 626.35 L810.31 626.87 L810.57 627.39 L810.83 627.90 L811.09 628.42 L811.35 628.94 L811.61 629.46 L811.87 629.98 L812.13 630.49 L812.39 631.01 L812.66 631.53 L812.92 632.05 L813.19 632.57 L813.45 633.08 L813.72 633.60 L813.99 634.12 L814.26 634.63 L814.53 635.15 L814.81 635.66 L815.08 636.17 L815.36 636.68 L815.63 637.20 L815.91 637.70 L816.19 638.21 L816.48 638.72 L816.76 639.22 L817.05 639.73 L817.34 640.23 L817.63 640.73 L817.93 641.23 L818.22 641.72 L818.52 642.22 L818.82 642.71 L819.13 643.20 L819.43 643.68 L819.74 644.17 L820.05 644.65 L820.37 645.13 L820.69 645.61 L821.01 646.08 L821.33 646.55 L821.66 647.02 L821.99 647.49 L822.33 647.95 L822.67 648.41 L823.01 648.86 L823.35 649.31 L823.70 649.76 L824.06 650.21 L824.41 650.65 L824.77 651.09 L825.14 651.52 L825.51 651.95 L825.88 652.37 L826.26 652.80 L826.64 653.21 L827.02 653.62 L827.42 654.03 L827.81 654.44 L828.21 654.84 L828.62 655.23 L829.03 655.62 L829.44 656.01 L829.86 656.39 L830.28 656.76 L830.71 657.13 L831.15 657.49 L831.59 657.85 L832.03 658.21 L832.49 658.56 L832.94 658.90 L833.40 659.23 L833.87 659.57 L834.35 659.89 L834.83 660.21 L835.31 660.52 L835.80 660.83 L836.30 661.13 L836.81 661.43 L837.32 661.71 L837.83 662.00 L838.36 662.27 L838.89 662.54 L839.42 662.80 L839.96 663.06" stroke="#0000ff" stroke-width="2.1" fill="none"/>
<path d="M661.75 672.30 L662.28 672.28 L662.82 672.27 L663.36 672.25 L663.90 672.24 L664.44 672.22 L664.97 672.21 L665.51 672.20 L666.05 672.18 L666.59 672.17 L667.13 672.16 L667.67 672.15 L668.20 672.14 L668.74 672.13 L669.28 672.13 L669.82 672.12 L670.36 672.11 L670.90 672.11 L671.43 672.10 L671.97 672.09 L672.51 672.09 L673.05 672.08 L673.59 672.08 L674.13 672.08 L674.66 672.07 L675.20 672.07 L675.74 672.07 L676.28 672.06 L676.82 672.06 L677.36 672.06 L677.89 672.06 L678.43 672.05 L678.97 672.05 L679.51 672.05 L680.05 672.05 L680.58 672.05 L681.12 672.05 L681.66 672.04 L682.20 672.04 L682.74 672.04 L683.27 672.04 L683.81 672.04 L684.35 672.03 L684.89 672.03 L685.43 672.03 L685.96 672.03 L686.50 672.02 L687.04 672.02 L687.58 672.01 L688.11 672.01 L688.65 672.01 L689.19 672.00 L689.73 671.99 L690.26 671.99 L690.80 671.98 L691.34 671.98 L691.88 671.97 L692.41 671.96 L692.95 671.95 L693.49 671.94 L694.02 671.93 L694.56 671.92 L695.10 671.91 L695.63 671.90 L696.17 671.89 L696.71 671.87 L697.24 671.86 L697.78 671.84 L698.32 671.83 L698.85 671.81 L699.39 671.79 L699.93 671.77 L700.46 671.75 L701.00 671.73 L701.53 671.71 L702.07 671.69 L702.61 671.66 L703.14 671.64 L703.68 671.61 L704.21 671.58 L704.75 671.55 L705.28 671.52 L705.82 671.49 L706.35 671.46 L706.89 671.43 L707.42 671.39 L707.96 671.36 L708.49 671.32 L709.03 671.28 L709.56 671.24 L710.09 671.20 L710.63 671.15 L711.16 671.11 L711.70 671.06 L712.23 671.01 L712.76 670.96 L713.30 670.91 L713.83 670.86 L714.36 670.80 L714.90 670.75 L715.43 670.69 L715.96 670.63 L716.50 670.57 L717.03 670.50 L717.56 670.44 L718.09 670.37 L718.63 670.30 L719.16 670.23 L719.69 670.16 L720.22 670.08 L720.75 670.01 L721.29 669.93 L721.82 669.85 L722.35 669.76 L722.88 669.68 L723.41 669.59 L723.94 669.50 L724.47 669.41 L725.00 669.31 L725.53 669.22 L726.06 669.12 L726.59 669.02 L727.12 668.92 L727.65 668.81 L728.18 668.70 L728.71 668.59 L729.24 668.48 L729.77 668.36 L730.30 668.25 L730.83 668.13 L731.35 668.00 L731.88 667.88 L732.41 667.75 L732.94 667.62 L733.47 667.49 L733.99 667.35 L734.52 667.21 L735.04 667.07 L735.57 666.92 L736.09 666.77 L736.61 666.62 L737.13 666.46 L737.65 666.30 L738.17 666.14 L738.68 665.97 L739.20 665.80 L739.71 665.63 L740.22 665.45 L740.73 665.27 L741.24 665.08 L741.74 664.89 L742.25 664.69 L742.75 664.49 L743.24 664.29 L743.74 664.08 L744.23 663.86 L744.72 663.64 L745.21 663.42 L745.69 663.19 L746.17 662.96 L746.65 662.72 L747.12 662.47 L747.60 662.22 L748.06 661.97 L748.53 661.71 L748.99 661.44 L749.44 661.17 L749.89 660.89 L750.34 660.60 L750.79 660.31 L751.23 660.02 L751.66 659.72 L752.09 659.41 L752.52 659.09 L752.94 658.77 L753.36 658.44 L753.77 658.11 L754.18 657.77 L754.58 657.42 L754.98 657.07 L755.37 656.71 L755.76 656.35 L756.15 655.98 L756.53 655.60 L756.91 655.22 L757.28 654.84 L757.65 654.45 L758.02 654.05 L758.38 653.66 L758.74 653.26 L759.10 652.85 L759.45 652.44 L759.80 652.03 L760.15 651.62 L760.50 651.20 L760.84 650.78 L761.18 650.35 L761.52 649.93 L761.86 649.50 L762.19 649.07 L762.52 648.64 L762.85 648.21 L763.18 647.78 L763.51 647.34 L763.84 646.91 L764.16 646.47 L764.49 646.04 L764.81 645.60 L765.13 645.17 L765.45 644.73 L765.77 644.29 L766.09 643.85 L766.40 643.41 L766.72 642.98 L767.03 642.54 L767.35 642.10 L767.66 641.66 L767.97 641.22 L768.28 640.78 L768.59 640.34 L768.90 639.90 L769.21 639.46 L769.52 639.03 L769.82 638.59 L770.13 638.15 L770.44 637.71 L770.74 637.28 L771.05 636.84 L771.35 636.40 L771.65 635.97 L771.96 635.53 L772.26 635.10 L772.56 634.66 L772.86 634.23 L773.16 633.80 L773.46 633.37 L773.77 632.93 L774.07 632.50 L774.37 632.07 L774.67 631.63 L774.97 631.20 L775.27 630.77 L775.57 630.33 L775.87 629.89 L776.17 629.45 L776.47 629.01 L776.77 628.56 L777.07 628.12 L777.37 627.67 L777.67 627.22 L777.97 626.76 L778.27 626.30 L778.57 625.84 L778.87 625.38 L779.17 624.91 L779.48 624.43 L779.78 623.96 L780.08 623.48 L780.39 623.00 L780.71 622.53 L781.02 622.05 L781.35 621.59 L781.68 621.13 L782.01 620.68 L782.36 620.24 L782.72 619.81 L783.08 619.40 L783.46 619.00 L783.85 618.63 L784.26 618.26 L784.67 617.93 L785.11 617.61 L785.55 617.31 L786.00 617.04 L786.47 616.80 L786.94 616.58 L787.42 616.40 L787.90 616.24 L788.39 616.11 L788.88 616.02 L789.37 615.96 L789.86 615.93 L790.35 615.94 L790.84 615.99 L791.32 616.07 L791.80 616.20 L792.27 616.35 L792.73 616.54 L793.19 616.76 L793.64 617.00 L794.08 617.27 L794.52 617.56 L794.94 617.87 L795.35 618.20 L795.76 618.54 L796.15 618.90 L796.53 619.27 L796.91 619.65 L797.27 620.05 L797.63 620.45 L797.98 620.87 L798.32 621.30 L798.66 621.73 L798.99 622.17 L799.31 622.62 L799.63 623.08 L799.94 623.55 L800.25 624.01 L800.55 624.49 L800.85 624.96 L801.15 625.44 L801.44 625.92 L801.73 626.40 L802.03 626.89 L802.31 627.37 L802.60 627.85 L802.89 628.33 L803.18 628.81 L803.47 629.28 L803.76 629.76 L804.05 630.22 L804.34 630.68 L804.64 631.13 L804.94 631.58 L805.24 632.02 L805.54 632.46 L805.85 632.89 L806.15 633.32 L806.45 633.75 L806.76 634.17 L807.06 634.60 L807.36 635.03 L807.66 635.46 L807.95 635.89 L808.25 636.33 L808.54 636.77 L808.82 637.22 L809.11 637.66 L809.39 638.11 L809.67 638.56 L809.95 639.02 L810.23 639.47 L810.51 639.93 L810.78 640.39 L811.06 640.85 L811.33 641.31 L811.60 641.78 L811.88 642.24 L812.15 642.71 L812.43 643.17 L812.70 643.64 L812.98 644.10 L813.25 644.56 L813.53 645.03 L813.81 645.49 L814.09 645.95 L814.37 646.42 L814.66 646.88 L814.94 647.34 L815.23 647.79 L815.52 648.25 L815.82 648.70 L816.11 649.15 L816.41 649.60 L816.72 650.05 L817.03 650.49 L817.34 650.93 L817.65 651.37 L817.97 651.80 L818.30 652.23 L818.63 652.65 L818.96 653.07 L819.30 653.49 L819.65 653.90 L820.00 654.31 L820.36 654.71 L820.72 655.11 L821.08 655.51 L821.45 655.90 L821.83 656.28 L822.21 656.66 L822.60 657.03 L822.99 657.40 L823.38 657.77 L823.78 658.13 L824.19 658.49 L824.60 658.84 L825.01 659.18 L825.43 659.52 L825.85 659.86 L826.28 660.19 L826.71 660.51 L827.14 660.84 L827.58 661.15 L828.02 661.46 L828.46 661.77 L828.91 662.07 L829.36 662.36 L829.82 662.65 L830.28 662.94 L830.74 663.22 L831.20 663.49 L831.67 663.76 L832.14 664.02 L832.61 664.28 L833.09 664.54 L833.57 664.78 L834.05 665.03 L834.53 665.26 L835.02 665.49 L835.51 665.72 L836.00 665.94 L836.49 666.15 L836.99 666.36 L837.48 666.57 L837.98 666.77 L838.48 666.96 L838.99 667.15 L839.49 667.33 L840.00 667.50" stroke="#ff0000" stroke-width="2.15" fill="none" stroke-dasharray="6.6 6.8 0.01 7.6" stroke-linecap="round" stroke-dashoffset="8.38" stroke-linejoin="round"/>
<circle cx="661.75" cy="672.40" r="1.45" fill="#ff0000"/>
<circle cx="671.90" cy="672.40" r="1.45" fill="#ff0000"/>
<circle cx="682.00" cy="672.60" r="1.45" fill="#ff0000"/>
<circle cx="692.10" cy="672.60" r="1.45" fill="#ff0000"/>
<circle cx="707.30" cy="672.60" r="1.45" fill="#ff0000"/>
<circle cx="720.70" cy="673.10" r="1.45" fill="#ff0000"/>
<circle cx="731.80" cy="674.40" r="1.45" fill="#ff0000"/>
<circle cx="743.20" cy="677.40" r="1.45" fill="#ff0000"/>
<circle cx="752.80" cy="684.00" r="1.45" fill="#ff0000"/>
<circle cx="760.90" cy="694.10" r="1.45" fill="#ff0000"/>
<circle cx="767.30" cy="706.80" r="1.45" fill="#ff0000"/>
<circle cx="772.80" cy="720.50" r="1.45" fill="#ff0000"/>
<circle cx="777.60" cy="734.60" r="1.45" fill="#ff0000"/>
<circle cx="782.40" cy="746.50" r="1.45" fill="#ff0000"/>
<circle cx="791.60" cy="756.60" r="1.45" fill="#ff0000"/>
<circle cx="798.90" cy="745.00" r="1.45" fill="#ff0000"/>
<circle cx="804.20" cy="730.60" r="1.45" fill="#ff0000"/>
<circle cx="809.00" cy="716.40" r="1.45" fill="#ff0000"/>
<circle cx="814.10" cy="703.50" r="1.45" fill="#ff0000"/>
<circle cx="819.60" cy="692.40" r="1.45" fill="#ff0000"/>
<circle cx="828.00" cy="681.50" r="1.45" fill="#ff0000"/>
<rect x="627.70" y="437.90" width="212.30" height="338.20" stroke="#000" stroke-width="1.3" fill="none"/>
<path d="M627.70 671.80H840" stroke="#000" stroke-width="1.25"/>
<path d="M682.36 776.10 v-5.60M737.22 776.10 v-5.60M792.08 776.10 v-5.60M654.93 776.10 v-3.40M709.79 776.10 v-3.40M764.65 776.10 v-3.40M819.51 776.10 v-3.40M682.36 437.90 v5.60M737.22 437.90 v5.60M792.08 437.90 v5.60M654.93 437.90 v3.40M709.79 437.90 v3.40M764.65 437.90 v3.40M819.51 437.90 v3.40M682.36 671.80 v-5.60M737.22 671.80 v-5.60M792.08 671.80 v-5.60M682.36 671.80 v5.60M737.22 671.80 v5.60M792.08 671.80 v5.60M654.93 671.80 v3.40M709.79 671.80 v3.40M764.65 671.80 v3.40M819.51 671.80 v3.40M627.70 723.80 h5.60M627.70 619.80 h5.60M627.70 567.80 h5.60M627.70 515.80 h5.60M627.70 463.80 h5.60M627.70 749.80 h3.40M627.70 697.80 h3.40M627.70 645.80 h3.40M627.70 593.80 h3.40M627.70 541.80 h3.40M627.70 489.80 h3.40" stroke="#000" stroke-width="1.2" fill="none"/>
<path d="M819.1 470.7H840" stroke="#0000ff" stroke-width="2.2" stroke-linecap="round"/>
<path d="M819.1 491.3H826" stroke="#0000ff" stroke-width="2.2" stroke-linecap="round"/>
<path d="M819.1 513.4H827.85" stroke="#ff0000" stroke-width="2.15" stroke-linecap="round"/>
<circle cx="819.3" cy="535.6" r="1.5" fill="#ff0000"/>
<text x="682.56" y="803.5" text-anchor="middle" stroke="#000" stroke-width="0.3" style="font-family:'Liberation Sans',sans-serif;font-size:27.5px">0.6</text>
<text x="737.42" y="803.5" text-anchor="middle" stroke="#000" stroke-width="0.3" style="font-family:'Liberation Sans',sans-serif;font-size:27.5px">0.8</text>
<text x="792.28" y="803.5" text-anchor="middle" stroke="#000" stroke-width="0.3" style="font-family:'Liberation Sans',sans-serif;font-size:27.5px">1.0</text>
<text x="622.1" y="783.70" text-anchor="end" stroke="#000" stroke-width="0.3" style="font-family:'Liberation Sans',sans-serif;font-size:27.8px">-2</text>
<text x="622.1" y="731.70" text-anchor="end" stroke="#000" stroke-width="0.3" style="font-family:'Liberation Sans',sans-serif;font-size:27.8px">-1</text>
<text x="622.1" y="679.70" text-anchor="end" stroke="#000" stroke-width="0.3" style="font-family:'Liberation Sans',sans-serif;font-size:27.8px">0</text>
<text x="622.1" y="627.70" text-anchor="end" stroke="#000" stroke-width="0.3" style="font-family:'Liberation Sans',sans-serif;font-size:27.8px">1</text>
<text x="622.1" y="575.70" text-anchor="end" stroke="#000" stroke-width="0.3" style="font-family:'Liberation Sans',sans-serif;font-size:27.8px">2</text>
<text x="622.1" y="523.70" text-anchor="end" stroke="#000" stroke-width="0.3" style="font-family:'Liberation Sans',sans-serif;font-size:27.8px">3</text>
<text x="622.1" y="471.70" text-anchor="end" stroke="#000" stroke-width="0.3" style="font-family:'Liberation Sans',sans-serif;font-size:27.8px">4</text>
<g transform="translate(790 826) scale(0.03614)" fill="#000"><path fill-rule="evenodd" d="M305 140 C205 140 135 245 135 372 C135 500 205 605 315 605 C415 605 475 500 475 372 C475 245 405 140 305 140 Z M338 180 C396 180 442 268 442 372 C442 477 396 565 338 565 C273 565 231 477 231 372 C231 268 273 180 338 180 Z"/><path d="M535 160 L605 160 C580 260 550 350 540 430 C545 490 560 540 585 545 C610 545 635 510 648 468 L668 476 C655 545 625 603 578 603 C535 603 505 540 492 455 C480 500 465 530 440 560 L425 520 C470 420 505 290 535 160 Z"/></g>
</g>
<g transform="translate(567.55 642.95) rotate(-90)"><text transform="translate(-0.55 -0.10) scale(1.1427 1)" style="font-family:'Liberation Sans',sans-serif;font-size:34.00px">f</text><text transform="translate(8.87 11.11) scale(0.9693 1)" style="font-family:'Liberation Sans',sans-serif;font-size:19.73px" stroke="#000" stroke-width="0.3">p</text><text transform="translate(20.82 -0.64) scale(0.8214 1)" style="font-family:'Liberation Sans',sans-serif;font-size:33.06px" stroke="#000" stroke-width="0.3">(</text><g transform="translate(27.02 -21.56) scale(0.03614)" fill="#000"><path fill-rule="evenodd" d="M305 140 C205 140 135 245 135 372 C135 500 205 605 315 605 C415 605 475 500 475 372 C475 245 405 140 305 140 Z M338 180 C396 180 442 268 442 372 C442 477 396 565 338 565 C273 565 231 477 231 372 C231 268 273 180 338 180 Z"/><path d="M535 160 L605 160 C580 260 550 350 540 430 C545 490 560 540 585 545 C610 545 635 510 648 468 L668 476 C655 545 625 603 578 603 C535 603 505 540 492 455 C480 500 465 530 440 560 L425 520 C470 420 505 290 535 160 Z"/></g><text transform="translate(53.15 -0.09) scale(0.9942 1)" style="font-family:'Liberation Serif',serif;font-size:33.10px" stroke="#000" stroke-width="0.3">,</text><text transform="translate(60.48 0.83) scale(0.9207 1)" style="font-family:'Liberation Serif',serif;font-size:35.00px">Q</text><text transform="translate(84.70 -17.05) scale(0.9009 1)" style="font-family:'Liberation Sans',sans-serif;font-size:18.76px">2</text><text transform="translate(94.85 -0.09) scale(0.9942 1)" style="font-family:'Liberation Serif',serif;font-size:33.10px" stroke="#000" stroke-width="0.3">,</text><text transform="translate(134.92 -0.64) scale(0.9127 1)" style="font-family:'Liberation Sans',sans-serif;font-size:33.06px" stroke="#000" stroke-width="0.3">)</text></g><g transform="translate(540.05 517.35) scale(0.04098)" fill="#000"><path d="M150 110 C100 190 100 330 160 430 C220 510 320 500 360 420 C375 380 375 300 375 180 L360 260 C355 330 340 390 260 390 C190 390 150 330 155 270 C158 220 180 190 215 180 Z"/><circle cx="205" cy="130" r="52"/><path d="M375 180 C380 300 385 400 420 460 C470 530 580 530 640 450 C700 370 700 200 640 110 C600 60 530 60 510 110 L590 180 C620 210 630 260 625 300 C615 370 570 410 510 405 C440 400 400 330 395 260 Z"/><ellipse cx="560" cy="125" rx="60" ry="55"/><path d="M356 200 C356 175 396 175 396 200 L404 420 L348 420 Z"/></g>
</svg>
</body>
</html>
